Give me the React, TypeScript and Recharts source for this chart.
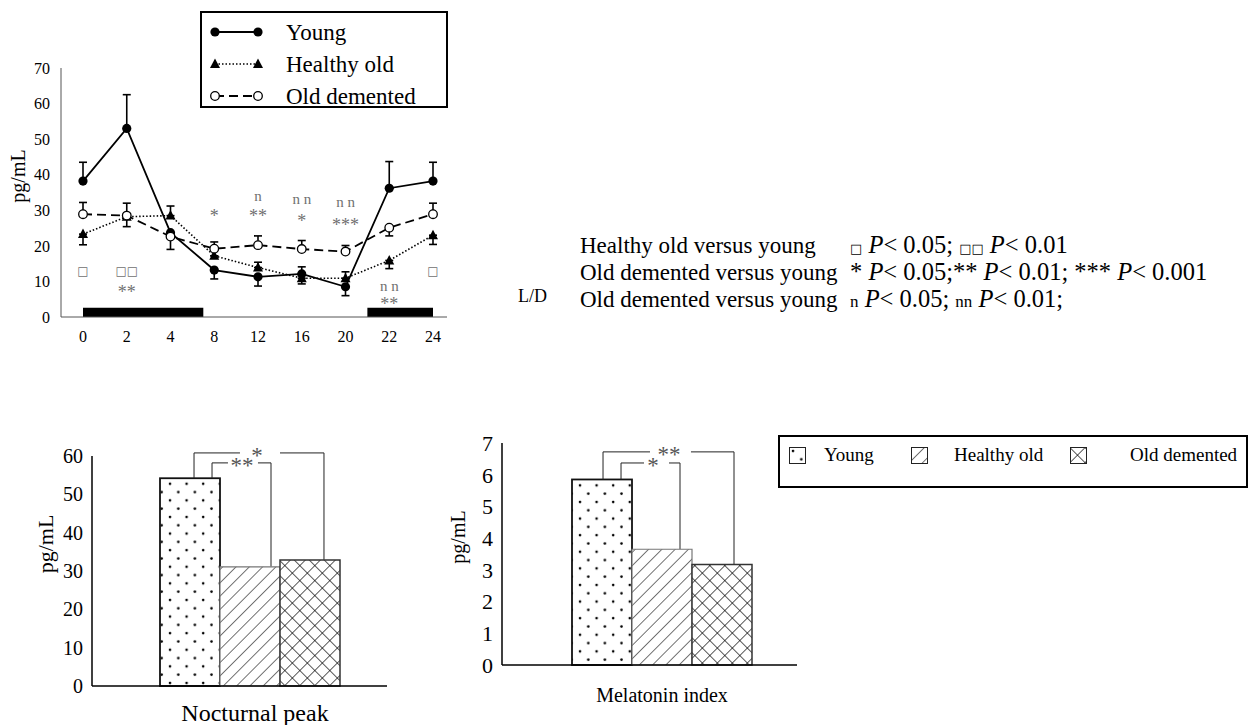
import React from 'react'
import {
  LineChart, Line, XAxis, YAxis, ErrorBar, Legend, ReferenceArea, ReferenceDot,
  BarChart, Bar, Label,
} from 'recharts'

const SERIF = '"Liberation Serif", "Times New Roman", Times, serif'
const SYMBOL = '"DejaVu Sans", sans-serif'

// sampling times (h) and mean melatonin (pg/mL) with error bars
const hours = ['0', '2', '4', '8', '12', '16', '20', '22', '24']
const young = [38.2, 53, 23.7, 13.2, 11.3, 12.1, 8.5, 36.2, 38.2]
const youngErrUp = [5.3, 9.5, 0, 0, 0, 2, 0, 7.5, 5.3]
const youngErrDown = [0, 0, 0, 2.5, 2.6, 0, 2.5, 0, 0]
const healthyOld = [23.3, 28.2, 28.5, 17.2, 13.9, 10.9, 10.9, 15.9, 23]
const healthyOldErrUp = [0, 0, 2.7, 0, 1.5, 0, 1.8, 0, 0]
const healthyOldErrDown = [3, 2.8, 0, 0, 0, 1.6, 0, 2.3, 2.6]
const oldDemented = [28.9, 28.5, 22.6, 19.2, 20.2, 19.1, 18.4, 25.1, 28.9]
const oldDementedErrUp = [3.3, 3.5, 0, 1.9, 2.6, 2.4, 1.7, 0, 3.1]
const oldDementedErrDown = [0, 0, 3.6, 0, 0, 0, 0, 2.3, 0]

// significance marks per sampling time
const sigSquares = ['□', '□□', '', '', '', '', '', '', '□']
const sigStars = ['', '**', '', '*', '**', '*', '***', '**', '']
const sigN = ['', '', '', '', 'n', 'n n', 'n n', 'n n', '']

// dark period (h)
const lightsOff = [[0, 7], [21, 24]]

const groups = ['Young', 'Healthy old', 'Old demented']
const nocturnalPeak = [54.2, 31.1, 32.9]
const melatoninIndex = [5.85, 3.65, 3.17]

// where the significance marks sit (pg/mL levels) - layout only
const squareLevel = 13.2
const starLevel = [0, 7.5, 0, 28.9, 29, 27.7, 26.5, 4.3, 0]
const nLevel = [0, 0, 0, 0, 33.8, 32.7, 32, 8.3, 0]

const lineData = hours.map((h, i) => ({
  hour: h,
  young: young[i],
  youngErr: [youngErrDown[i], youngErrUp[i]],
  healthyOld: healthyOld[i],
  healthyOldErr: [healthyOldErrDown[i], healthyOldErrUp[i]],
  oldDemented: oldDemented[i],
  oldDementedErr: [oldDementedErrDown[i], oldDementedErrUp[i]],
}))

const hourNums = hours.map(Number)
const hourToSlot = (h: number) => {
  for (let i = 0; i < hourNums.length - 1; i++) {
    if (h <= hourNums[i + 1]) return i + (h - hourNums[i]) / (hourNums[i + 1] - hourNums[i])
  }
  return hourNums.length - 1
}

const peakData = [{ name: 'Nocturnal peak', g0: nocturnalPeak[0], g1: nocturnalPeak[1], g2: nocturnalPeak[2] }]
const indexData = [{ name: 'Melatonin index', g0: melatoninIndex[0], g1: melatoninIndex[1], g2: melatoninIndex[2] }]

const barFills = ['url(#pat-dots)', 'url(#pat-hatch)', 'url(#pat-cross)']
const barStrokes = ['#111', '#777', '#333']
const barStrokeW = [1.8, 1.2, 1.5]

// bracket geometry: x in bar widths from the left edge of the first bar, top in axis units
const peakBrackets = [
  { to: 2, text: '*', top: 60.8, left: 0.567, right: 2.733, gap: [1.333, 2.0], textX: 1.617 },
  { to: 1, text: '**', top: 58.2, left: 0.867, right: 1.85, gap: [1.133, 1.633], textX: 1.367 },
]
const indexBrackets = [
  { to: 2, text: '**', top: 6.72, left: 0.517, right: 2.7, gap: [1.3, 1.983], textX: 1.617 },
  { to: 1, text: '*', top: 6.37, left: 0.817, right: 1.8, gap: [1.2, 1.617], textX: 1.35 },
]

function Marker({ kind, cx, cy }: { kind: string; cx: number; cy: number }) {
  if (kind === 'tri') {
    return <polygon points={`${cx},${cy - 5.5} ${cx - 5},${cy + 4} ${cx + 5},${cy + 4}`} fill="#000" />
  }
  if (kind === 'ring') {
    return <circle cx={cx} cy={cy} r={4.3} fill="#fff" stroke="#000" strokeWidth={1.3} />
  }
  return <circle cx={cx} cy={cy} r={4.6} fill="#000" />
}

const lineStyles = [
  { key: 'young', name: 'Young', dash: undefined, width: 1.8, marker: 'dot' },
  { key: 'healthyOld', name: 'Healthy old', dash: '1.5 2', width: 1.6, marker: 'tri' },
  { key: 'oldDemented', name: 'Old demented', dash: '9 5', width: 1.8, marker: 'ring' },
]

function LineLegend() {
  return (
    <div style={{ width: 248, height: 97, boxSizing: 'border-box', border: '2px solid #000', background: '#fff', paddingTop: 3 }}>
      {lineStyles.map((s) => (
        <div key={s.key} style={{ display: 'flex', alignItems: 'center', height: 32 }}>
          <svg width={84} height={20}>
            <line x1={13} y1={10} x2={56} y2={10} stroke="#000" strokeWidth={s.width} strokeDasharray={s.dash} />
            <Marker kind={s.marker} cx={13} cy={10} />
            <Marker kind={s.marker} cx={56} cy={10} />
          </svg>
          <span style={{ fontFamily: SERIF, fontSize: 23, color: '#000', lineHeight: 1 }}>{s.name}</span>
        </div>
      ))}
    </div>
  )
}

function BarLegend() {
  const pos = [[9, 44], [131, 174], [290, 350]]
  return (
    <div style={{ position: 'relative', width: 470, height: 53, boxSizing: 'border-box', border: '2px solid #000', background: '#fff' }}>
      {groups.map((g, i) => (
        <div key={g}>
          <svg width={17} height={17} style={{ position: 'absolute', left: pos[i][0], top: 10 }}>
            <rect x={0.5} y={0.5} width={16} height={16} fill={barFills[i]} stroke="#222" strokeWidth={1} />
          </svg>
          <span style={{ position: 'absolute', left: pos[i][1], top: 6, fontFamily: SERIF, fontSize: 19, lineHeight: '24px', color: '#000' }}>{g}</span>
        </div>
      ))}
    </div>
  )
}

const yTitle = (x: number, y: number, size: number) => () => (
  <text transform={`translate(${x},${y}) rotate(-90)`} textAnchor="middle" dominantBaseline="central" fontSize={size} fontFamily={SERIF} fill="#000">
    pg/mL
  </text>
)

function sigMark(text: string, x: string, y: number, size: number, lift: number, family: string, key: string) {
  return (
    <ReferenceDot
      key={key}
      x={x}
      y={y}
      ifOverflow="visible"
      shape={(p: any) => (
        <text x={p.cx} y={p.cy + lift * size} textAnchor="middle" fontSize={size} fontFamily={family} fill="#707070">
          {text}
        </text>
      )}
    />
  )
}

// first bar draws itself plus the significance brackets spanning the group
const firstBarShape = (list: typeof peakBrackets, values: number[]) => (p: any) => {
  const { x, y, width, height, fill, stroke, strokeWidth } = p
  const base = y + height
  const k = height / values[0]
  const yOf = (v: number) => base - v * k
  const X = (u: number) => x + u * width
  return (
    <g>
      <rect x={x} y={y} width={width} height={height} fill={fill} stroke={stroke} strokeWidth={strokeWidth} />
      {list.map((b, i) => {
        const ty = yOf(b.top)
        return (
          <g key={i}>
            <polyline points={`${X(b.left)},${yOf(values[0])} ${X(b.left)},${ty} ${X(b.gap[0])},${ty}`} fill="none" stroke="#222" strokeWidth={1} />
            <polyline points={`${X(b.gap[1])},${ty} ${X(b.right)},${ty} ${X(b.right)},${yOf(values[b.to])}`} fill="none" stroke="#222" strokeWidth={1} />
            <text x={X(b.textX)} y={ty + 0.42 * 23} textAnchor="middle" fontSize={23} fontFamily={SERIF} fill="#555">
              {b.text}
            </text>
          </g>
        )
      })}
    </g>
  )
}

function GroupBars({ data, values, domain, ticks, brackList, withLegend, tickSize, tickMargin, tickDx, title, width, height, margin, xh, padLeft }: any) {
  return (
    <BarChart width={width} height={height} data={data} margin={margin} barGap={0} barSize={60}>
      <XAxis
        dataKey="name"
        tickLine={false}
        axisLine={{ stroke: '#000', strokeWidth: 1.5 }}
        padding={{ left: padLeft, right: 0 }}
        height={xh}
        interval={0}
        tickMargin={tickMargin}
        tick={{ fontSize: tickSize.x, fill: '#000', fontFamily: SERIF, dx: tickDx }}
      />
      <YAxis
        width={92}
        domain={domain}
        ticks={ticks}
        interval={0}
        tickLine={false}
        tickMargin={3}
        axisLine={{ stroke: '#000', strokeWidth: 1.5 }}
        tick={{ fontSize: tickSize.y, fill: '#000', fontFamily: SERIF }}
      >
        <Label content={title} />
      </YAxis>
      {[0, 1, 2].map((i) => (
        <Bar
          key={i}
          dataKey={`g${i}`}
          name={groups[i]}
          fill={barFills[i]}
          stroke={barStrokes[i]}
          strokeWidth={barStrokeW[i]}
          isAnimationActive={false}
          shape={i === 0 ? firstBarShape(brackList, values) : undefined}
        />
      ))}
      {withLegend && (
        <Legend
          layout="horizontal"
          verticalAlign="middle"
          align="center"
          content={() => <BarLegend />}
          wrapperStyle={{ left: 368, top: 20, width: 470, height: 53 }}
        />
      )}
    </BarChart>
  )
}

export default function App() {
  return (
    <div style={{ position: 'absolute', left: 0, top: 0, width: 1249, height: 725, background: '#fff', overflow: 'hidden' }}>
      <svg width={0} height={0} style={{ position: 'absolute' }}>
        <defs>
          <pattern id="pat-dots" patternUnits="userSpaceOnUse" width={16.6} height={16.6}>
            <rect width={16.6} height={16.6} fill="#fff" />
            <circle cx={4} cy={4} r={1.3} fill="#000" />
            <circle cx={12.3} cy={12.3} r={1.3} fill="#000" />
          </pattern>
          <pattern id="pat-hatch" patternUnits="userSpaceOnUse" width={9.4} height={9.4} patternTransform="rotate(45)">
            <rect width={9.4} height={9.4} fill="#fff" />
            <line x1={0} y1={0} x2={0} y2={9.4} stroke="#000" strokeWidth={1.1} />
          </pattern>
          <pattern id="pat-cross" patternUnits="userSpaceOnUse" width={10.6} height={10.6} patternTransform="rotate(45)">
            <rect width={10.6} height={10.6} fill="#fff" />
            <line x1={0} y1={0} x2={0} y2={10.6} stroke="#000" strokeWidth={1.3} />
            <line x1={0} y1={0} x2={10.6} y2={0} stroke="#000" strokeWidth={1.3} />
          </pattern>
        </defs>
      </svg>

      <div style={{ position: 'absolute', left: 0, top: 0 }}>
        <LineChart width={460} height={345} data={lineData} margin={{ top: 68, right: 13, bottom: 0, left: 0 }}>
          <XAxis
            dataKey="hour"
            tickLine={false}
            axisLine={{ stroke: '#555', strokeWidth: 1 }}
            padding={{ left: 22, right: 14 }}
            height={28}
            interval={0}
            tickMargin={8}
            tick={{ fontSize: 16, fill: '#000', fontFamily: SERIF }}
          />
          <XAxis xAxisId="slot" type="number" domain={[0, hours.length - 1]} padding={{ left: 22, right: 14 }} hide />
          <YAxis
            width={61}
            domain={[0, 70]}
            ticks={[0, 10, 20, 30, 40, 50, 60, 70]}
            interval={0}
            tickLine={false}
            tickMargin={5}
            axisLine={{ stroke: '#555', strokeWidth: 1 }}
            tick={{ fontSize: 16, fill: '#000', fontFamily: SERIF }}
          >
            <Label content={yTitle(18, 176, 20)} />
          </YAxis>
          {lightsOff.map(([a, b]) => (
            <ReferenceArea
              key={`d${a}`}
              xAxisId="slot"
              x1={hourToSlot(a)}
              x2={hourToSlot(b)}
              y1={0}
              y2={2.6}
              fill="#000"
              fillOpacity={1}
              stroke="none"
              ifOverflow="visible"
            />
          ))}
          {lineStyles.map((s) => (
            <Line
              key={s.key}
              dataKey={s.key}
              name={s.name}
              stroke="#000"
              strokeWidth={s.width}
              strokeDasharray={s.dash}
              isAnimationActive={false}
              dot={(p: any) => <Marker key={`${s.key}${p.index}`} kind={s.marker} cx={p.cx} cy={p.cy} />}
              activeDot={false}
            >
              <ErrorBar dataKey={`${s.key}Err`} direction="y" width={4} stroke="#000" strokeWidth={1.6} />
            </Line>
          ))}
          {hours.map((h, i) => sigSquares[i] ? sigMark(sigSquares[i], h, squareLevel, 12, 0.38, SYMBOL, `sq${i}`) : null)}
          {hours.map((h, i) => sigStars[i] ? sigMark(sigStars[i], h, starLevel[i], 18, 0.45, SERIF, `st${i}`) : null)}
          {hours.map((h, i) => sigN[i] ? sigMark(sigN[i], h, nLevel[i], 15, 0.25, SERIF, `n${i}`) : null)}
          <Legend
            layout="horizontal"
            verticalAlign="middle"
            align="center"
            content={() => <LineLegend />}
            wrapperStyle={{ left: 200, top: 11, width: 248, height: 97 }}
          />
        </LineChart>
      </div>

      <svg width={1249} height={400} style={{ position: 'absolute', left: 0, top: 0, pointerEvents: 'none' }}>
        <text x={518} y={302} fontSize={18} fontFamily={SERIF} fill="#000">L/D</text>
        <g fontFamily={SERIF} fontSize={23} fill="#000">
          <text x={580} y={253}>Healthy old versus young</text>
          <text x={580} y={280}>Old demented versus young</text>
          <text x={580} y={307}>Old demented versus young</text>
        </g>
        <g fontFamily={SERIF} fontSize={24.5} fill="#000">
          <text x={850} y={253}>
            <tspan fontFamily={SYMBOL} fontSize={13}>□</tspan>
            <tspan fontStyle="italic"> P</tspan>
            <tspan>{'< 0.05; '}</tspan>
            <tspan fontFamily={SYMBOL} fontSize={13}>□□</tspan>
            <tspan fontStyle="italic"> P</tspan>
            <tspan>{'< 0.01'}</tspan>
          </text>
          <text x={850} y={280}>
            <tspan>{'* '}</tspan>
            <tspan fontStyle="italic">P</tspan>
            <tspan>{'< 0.05;** '}</tspan>
            <tspan fontStyle="italic">P</tspan>
            <tspan>{'< 0.01; *** '}</tspan>
            <tspan fontStyle="italic">P</tspan>
            <tspan>{'< 0.001'}</tspan>
          </text>
          <text x={850} y={307}>
            <tspan fontSize={17}>n</tspan>
            <tspan fontStyle="italic"> P</tspan>
            <tspan>{'< 0.05; '}</tspan>
            <tspan fontSize={17}>nn</tspan>
            <tspan fontStyle="italic"> P</tspan>
            <tspan>{'< 0.01;'}</tspan>
          </text>
        </g>
      </svg>

      <div style={{ position: 'absolute', left: 0, top: 430 }}>
        <GroupBars
          data={peakData}
          values={nocturnalPeak}
          domain={[0, 60]}
          ticks={[0, 10, 20, 30, 40, 50, 60]}
          brackList={peakBrackets}
          withLegend={false}
          tickSize={{ x: 24, y: 20 }}
          tickMargin={12}
          tickDx={5}
          title={yTitle(45, 114, 22)}
          width={400}
          height={295}
          margin={{ top: 26, right: 13, bottom: 0, left: 0 }}
          xh={39}
          padLeft={21}
        />
      </div>

      <div style={{ position: 'absolute', left: 410, top: 415 }}>
        <GroupBars
          data={indexData}
          values={melatoninIndex}
          domain={[0, 7]}
          ticks={[0, 1, 2, 3, 4, 5, 6, 7]}
          brackList={indexBrackets}
          withLegend
          tickSize={{ x: 20, y: 22 }}
          tickMargin={17}
          tickDx={0}
          title={yTitle(48, 122, 20)}
          width={839}
          height={310}
          margin={{ top: 28, right: 452, bottom: 0, left: 0 }}
          xh={60}
          padLeft={25}
        />
      </div>
    </div>
  )
}
